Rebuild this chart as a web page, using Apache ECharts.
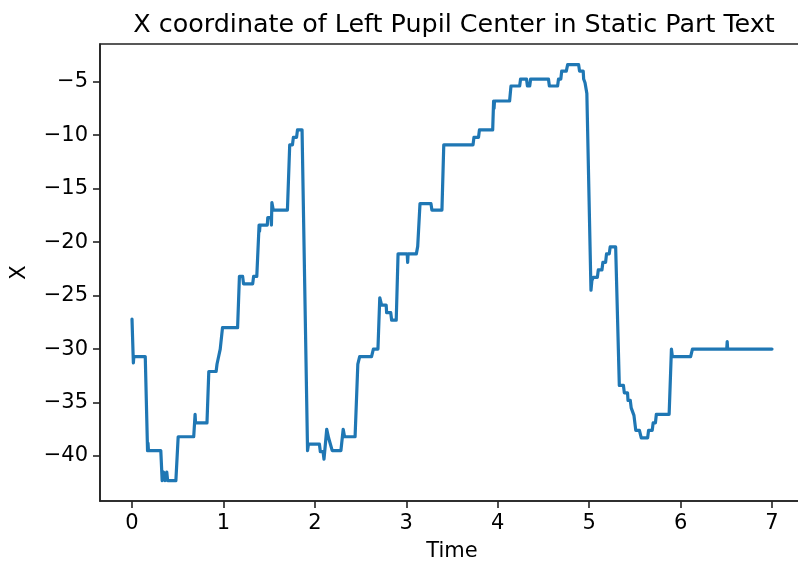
<!DOCTYPE html>
<html>
<head>
<meta charset="utf-8">
<script src="https://cdn.jsdelivr.net/npm/echarts@6/dist/echarts.min.js"></script>
<style>html,body{margin:0;padding:0;background:#fff;overflow:hidden}#c{width:798px;height:563px}</style>
</head>
<body>
<div id="c"></div>
<script>
var timeValues = [0.00,0.015,0.02,0.145,0.17,0.175,0.18,0.315,0.33,0.345,0.36,0.38,0.39,0.48,0.505,0.675,0.69,0.695,0.82,0.84,0.92,0.93,0.95,0.965,0.99,1.155,1.175,1.21,1.22,1.32,1.33,1.365,1.39,1.395,1.40,1.48,1.485,1.52,1.525,1.53,1.545,1.70,1.725,1.755,1.765,1.80,1.81,1.86,1.92,1.93,2.05,2.06,2.09,2.10,2.13,2.15,2.17,2.19,2.285,2.31,2.325,2.44,2.47,2.49,2.62,2.64,2.69,2.71,2.73,2.78,2.785,2.83,2.84,2.89,2.91,3.01,3.015,3.02,3.11,3.125,3.15,3.27,3.28,3.39,3.41,3.73,3.74,3.79,3.80,3.945,3.955,3.96,3.965,4.13,4.145,4.24,4.25,4.315,4.325,4.35,4.36,4.555,4.565,4.655,4.665,4.69,4.70,4.75,4.765,4.885,4.895,4.935,4.94,4.955,4.975,5.02,5.03,5.045,5.09,5.10,5.14,5.15,5.18,5.19,5.22,5.23,5.29,5.33,5.375,5.385,5.42,5.425,5.45,5.46,5.48,5.49,5.51,5.55,5.57,5.64,5.65,5.69,5.70,5.725,5.735,5.875,5.90,5.91,6.11,6.13,6.505,6.51,6.515,7.0];
var xValues = [-27.2,-31.3,-30.7,-30.7,-39.5,-38.8,-39.5,-39.5,-42.3,-41.5,-42.3,-41.5,-42.3,-42.3,-38.2,-38.2,-36.1,-36.9,-36.9,-32.1,-32.1,-31.4,-30.6,-30.0,-28.0,-28.0,-23.2,-23.2,-23.9,-23.9,-23.2,-23.2,-18.4,-19.0,-18.4,-18.4,-17.7,-17.7,-18.4,-16.3,-17.0,-17.0,-10.9,-10.9,-10.2,-10.2,-9.5,-9.5,-39.5,-38.9,-38.9,-39.6,-39.6,-40.3,-37.5,-38.3,-38.9,-39.5,-39.5,-37.5,-38.2,-38.2,-31.4,-30.7,-30.7,-30.0,-30.0,-25.2,-25.9,-25.9,-26.6,-26.6,-27.3,-27.3,-21.1,-21.1,-21.9,-21.1,-21.1,-20.4,-16.4,-16.4,-17.0,-17.0,-10.9,-10.9,-10.2,-10.2,-9.5,-9.5,-6.8,-7.5,-6.8,-6.8,-5.4,-5.4,-4.75,-4.75,-5.4,-5.4,-4.75,-4.75,-5.4,-5.4,-4.75,-4.75,-4.0,-4.0,-3.4,-3.4,-4.0,-4.0,-4.75,-5.1,-6.1,-24.5,-23.6,-23.3,-23.3,-22.6,-22.6,-21.9,-21.9,-21.1,-21.1,-20.45,-20.45,-33.4,-33.4,-34.1,-34.1,-34.8,-34.8,-35.5,-35.5,-36.2,-37.6,-37.6,-38.3,-38.3,-37.6,-37.6,-36.9,-36.9,-36.1,-36.1,-30.0,-30.7,-30.7,-30.0,-30.0,-29.3,-30.0,-30.0];
var xTicks = [0,1,2,3,4,5,6,7];
var yTicks = [-40,-35,-30,-25,-20,-15,-10,-5];
var titleText = 'X coordinate of Left Pupil Center in Static Part Text';

var data = timeValues.map(function(t,i){return [t, xValues[i]];});
var font = 'DejaVu Sans';
function fmt(v){ return String(v).replace('-', '\u2212'); }

var chart = echarts.init(document.getElementById('c'), null, {renderer:'canvas', width: 798, height: 563});
chart.setOption({
  animation: false,
  backgroundColor: '#fff',
  graphic: [{
    type: 'text', x: 454, y: 25, silent: true,
    style: {text: titleText, align: 'center', verticalAlign: 'middle',
            font: '25.4px "DejaVu Sans"', fill: '#000'}
  }],
  grid: {left: 100, top: 44, width: 704, height: 457, outerBoundsMode: 'none', containLabel: false,
         show: true, borderColor: '#222', borderWidth: 1.6, backgroundColor: 'transparent'},
  xAxis: {
    type: 'value', min: -0.35, max: 7.35,
    name: 'Time', nameLocation: 'middle', nameGap: 40,
    nameTextStyle: {fontFamily: font, fontSize: 21, color: '#000'},
    splitLine: {show: false},
    axisLine: {show: true, onZero: false, lineStyle: {color: '#222', width: 1.6}},
    axisTick: {show: true, inside: false, length: 7, lineStyle: {color: '#222', width: 1.6}, customValues: xTicks},
    axisLabel: {fontFamily: font, fontSize: 21, color: '#000', margin: 12, customValues: xTicks, formatter: fmt}
  },
  yAxis: {
    type: 'value', min: -44.21, max: -1.47,
    name: 'X', nameLocation: 'middle', nameGap: 70, nameRotate: 90,
    nameTextStyle: {fontFamily: font, fontSize: 21, color: '#000'},
    splitLine: {show: false},
    axisLine: {show: true, onZero: false, lineStyle: {color: '#222', width: 1.6}},
    axisTick: {show: true, inside: false, length: 7, lineStyle: {color: '#222', width: 1.6}, customValues: yTicks},
    axisLabel: {fontFamily: font, fontSize: 21, color: '#000', margin: 12, customValues: yTicks, formatter: fmt}
  },
  series: [{
    type: 'line', data: data, showSymbol: false, symbol: 'none',
    lineStyle: {color: '#1f77b4', width: 3.2, join: 'round', cap: 'round'},
    clip: true
  }]
});
</script>
</body>
</html>
